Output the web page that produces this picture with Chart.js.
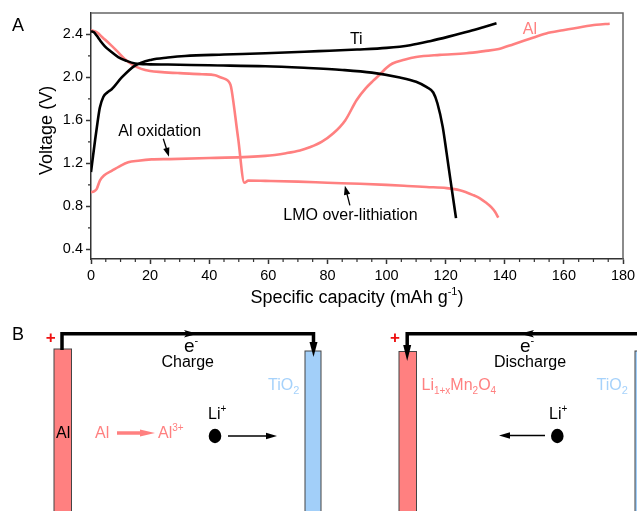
<!DOCTYPE html>
<html>
<head>
<meta charset="utf-8">
<script src="https://cdn.jsdelivr.net/npm/chart.js@4.4.0/dist/chart.umd.min.js"></script>
<style>
  body { margin: 0; background: #fff; }
  #wrap { position: absolute; left: 0; top: 0; width: 637px; height: 318px; }
  #schem { position: absolute; left: 0; top: 0; }
</style>
</head>
<body>
<div id="wrap"><canvas id="data-chart"></canvas></div>

<svg id="schem" width="637" height="511" font-family="'Liberation Sans', Arial, sans-serif">
  <text x="12" y="31" font-size="18">A</text>
  <text x="12" y="340" font-size="18">B</text>

  <!-- charge cell -->
  <rect x="54" y="349" width="17.5" height="180" fill="#ff8080" stroke="#444" stroke-width="1"/>
  <rect x="305" y="351" width="16" height="180" fill="#a2cff9" stroke="#444" stroke-width="1"/>
  <polyline points="62,350 62,333.7 313.5,333.7 313.5,345" fill="none" stroke="#000" stroke-width="3.5"/>
  <polygon points="309.5,342 317.5,342 313.5,357" fill="#000"/>
  <polygon points="184,330 197.5,333.7 184,337.4 187,333.7" fill="#000"/>
  <text x="50.8" y="342.6" font-size="17" font-weight="bold" fill="#ee1111" text-anchor="middle">+</text>
  <text x="184" y="352" font-size="19">e<tspan dy="-8" font-size="11">-</tspan></text>
  <text x="161.5" y="367" font-size="16">Charge</text>
  <text x="268" y="390" font-size="16" fill="#a6d2fb">TiO<tspan dy="4" font-size="11">2</tspan></text>
  <text x="56" y="438" font-size="16">Al</text>
  <text x="95" y="438" font-size="16" fill="#ff8080">Al</text>
  <line x1="117" y1="433" x2="143" y2="433" stroke="#ff8080" stroke-width="3.5"/>
  <polygon points="140,429.5 155,433 140,436.5" fill="#ff8080"/>
  <text x="158" y="438" font-size="16" fill="#ff8080">Al<tspan dy="-7" font-size="10">3+</tspan></text>
  <text x="208" y="419" font-size="16">Li<tspan dy="-7" font-size="10">+</tspan></text>
  <ellipse cx="215" cy="436" rx="6.3" ry="7.2" fill="#000"/>
  <line x1="228" y1="436" x2="268" y2="436" stroke="#000" stroke-width="1.5"/>
  <polygon points="266,432.8 277,436 266,439.2" fill="#000"/>

  <!-- discharge cell -->
  <rect x="399" y="351.5" width="17.5" height="180" fill="#ff8080" stroke="#444" stroke-width="1"/>
  <rect x="635" y="351" width="16" height="180" fill="#a2cff9" stroke="#444" stroke-width="1"/>
  <polyline points="407.2,348 407.2,333.7 640,333.7" fill="none" stroke="#000" stroke-width="3.5"/>
  <polygon points="403.2,345 411.2,345 407.2,361" fill="#000"/>
  <polygon points="534,330 520,333.7 534,337.4 531,333.7" fill="#000"/>
  <text x="395" y="342.6" font-size="17" font-weight="bold" fill="#ee1111" text-anchor="middle">+</text>
  <text x="520" y="352" font-size="19">e<tspan dy="-8" font-size="11">-</tspan></text>
  <text x="494" y="367" font-size="16">Discharge</text>
  <text x="421.5" y="390" font-size="16" fill="#ff8080">Li<tspan dy="4" font-size="10">1+x</tspan><tspan dy="-4">Mn</tspan><tspan dy="4" font-size="10">2</tspan><tspan dy="-4">O</tspan><tspan dy="4" font-size="10">4</tspan></text>
  <text x="596.5" y="390" font-size="16" fill="#a6d2fb">TiO<tspan dy="4" font-size="11">2</tspan></text>
  <text x="549" y="419" font-size="16">Li<tspan dy="-7" font-size="10">+</tspan></text>
  <ellipse cx="557.3" cy="436" rx="6.3" ry="7.2" fill="#000"/>
  <line x1="545" y1="435.5" x2="508" y2="435.5" stroke="#000" stroke-width="1.5"/>
  <polygon points="510,432.3 499,435.5 510,438.7" fill="#000"/>
</svg>

<script>
var FONT = "'Liberation Sans', Arial, sans-serif";

// Ti electrode (black)
var tiChargeX = [0, 0.7, 1.4, 2.2, 3, 4.2, 5.5, 7, 10.4, 14.9, 20.5, 26, 31.8, 45, 59, 77, 90, 100, 108, 115, 121, 128, 133, 137.2];
var tiChargeY = [1.12, 1.27, 1.42, 1.58, 1.72, 1.82, 1.86, 1.89, 2.0, 2.11, 2.165, 2.185, 2.2, 2.213, 2.225, 2.245, 2.26, 2.275, 2.30, 2.34, 2.38, 2.43, 2.47, 2.505];
var tiDischargeX = [0, 1, 1.9, 3.2, 4.7, 6.8, 9.2, 12, 14.9, 20, 26, 40, 59, 72, 85, 95, 104.5, 110, 113.6, 115.8, 117.2, 119, 120.3, 121.7, 123.5];
var tiDischargeY = [2.43, 2.42, 2.39, 2.34, 2.29, 2.24, 2.19, 2.155, 2.13, 2.122, 2.12, 2.113, 2.105, 2.09, 2.07, 2.045, 2.0, 1.96, 1.91, 1.86, 1.76, 1.54, 1.30, 1.03, 0.69];

// Al electrode (pink)
var alChargeX = [0, 1, 1.9, 3, 4.5, 7, 9.5, 12.6, 16, 20.5, 26.7, 40, 59, 66, 70.7, 74, 78, 82, 86, 89.9, 93, 95.5, 97.8, 100, 102, 106, 110, 118, 127, 133, 138, 143, 148.5, 154, 159.7, 166, 171, 175.5];
var alChargeY = [0.93, 0.94, 0.96, 1.04, 1.09, 1.13, 1.17, 1.21, 1.225, 1.237, 1.24, 1.25, 1.27, 1.295, 1.32, 1.35, 1.40, 1.48, 1.60, 1.79, 1.90, 1.97, 2.03, 2.09, 2.13, 2.165, 2.19, 2.21, 2.225, 2.245, 2.265, 2.31, 2.36, 2.41, 2.44, 2.47, 2.49, 2.50];
var alDischargeX = [0, 2, 4, 6.4, 9, 11.5, 14, 17, 20, 24, 30, 37.5, 42, 44, 45.5, 46.5, 47.2, 47.6, 49.8, 51.9, 53.2, 59, 70, 80, 91, 100, 107, 113.5, 120.3, 124.8, 129.3, 131.6, 133.6, 135.5, 136.8, 137.8];
var alDischargeY = [2.44, 2.42, 2.37, 2.31, 2.24, 2.17, 2.12, 2.08, 2.06, 2.05, 2.04, 2.03, 2.02, 2.0, 1.985, 1.965, 1.93, 1.88, 1.43, 1.02, 1.04, 1.037, 1.03, 1.02, 1.01, 1.0, 0.99, 0.98, 0.97, 0.95, 0.905, 0.875, 0.835, 0.79, 0.745, 0.695];

var xTicks = [0, 20, 40, 60, 80, 100, 120, 140, 160, 180];
var yTicks = [0.4, 0.8, 1.2, 1.6, 2.0, 2.4];
var xMinor = [5, 10, 15, 25, 30, 35, 45, 50, 55, 65, 70, 75, 85, 90, 95, 105, 110, 115, 125, 130, 135, 145, 150, 155, 165, 170, 175];
var yMinor = [0.6, 1.0, 1.4, 1.8, 2.2];

// label text, anchor in data units
var notes = [
    { text: "Ti", x: 87.6, y: 2.307, color: "#000" },
    { text: "Al", x: 146.1, y: 2.40, color: "#ff8080" },
    { text: "Al oxidation", x: 9.24, y: 1.451, color: "#000" },
    { text: "LMO over-lithiation", x: 65.05, y: 0.670, color: "#000" }
];
var arrows = [
    { from: [24.46, 1.430], to: [26.39, 1.262] },
    { from: [87.6, 0.809], to: [85.9, 0.992] }
];

function pts(xs, ys) {
    return xs.map(function (v, i) { return { x: v, y: ys[i] }; });
}

function series(xs, ys, color) {
    return {
        data: pts(xs, ys),
        borderColor: color,
        borderWidth: 2.6,
        pointRadius: 0,
        fill: false,
        cubicInterpolationMode: "monotone"
    };
}

var extras = {
    id: "extras",
    afterDraw: function (chart) {
        var ctx = chart.ctx, a = chart.chartArea, xs = chart.scales.x, ys = chart.scales.y;
        ctx.save();
        // top / right frame
        ctx.strokeStyle = "#666";
        ctx.lineWidth = 1.5;
        ctx.beginPath();
        ctx.moveTo(a.left, a.top);
        ctx.lineTo(a.right, a.top);
        ctx.lineTo(a.right, a.bottom);
        ctx.stroke();

        // minor ticks
        ctx.strokeStyle = "#333";
        ctx.lineWidth = 1.2;
        ctx.beginPath();
        xMinor.forEach(function (v) {
            var px = xs.getPixelForValue(v);
            ctx.moveTo(px, a.bottom);
            ctx.lineTo(px, a.bottom + 3);
        });
        yMinor.forEach(function (v) {
            var py = ys.getPixelForValue(v);
            ctx.moveTo(a.left, py);
            ctx.lineTo(a.left - 3, py);
        });
        ctx.stroke();

        // notes
        ctx.font = "16px " + FONT;
        ctx.textAlign = "left";
        ctx.textBaseline = "alphabetic";
        notes.forEach(function (n) {
            ctx.fillStyle = n.color;
            ctx.fillText(n.text, xs.getPixelForValue(n.x), ys.getPixelForValue(n.y));
        });

        // arrows
        ctx.strokeStyle = "#000";
        ctx.fillStyle = "#000";
        ctx.lineWidth = 1.3;
        arrows.forEach(function (ar) {
            var x1 = xs.getPixelForValue(ar.from[0]), y1 = ys.getPixelForValue(ar.from[1]);
            var x2 = xs.getPixelForValue(ar.to[0]), y2 = ys.getPixelForValue(ar.to[1]);
            var ang = Math.atan2(y2 - y1, x2 - x1);
            ctx.beginPath();
            ctx.moveTo(x1, y1);
            ctx.lineTo(x2 - 6 * Math.cos(ang), y2 - 6 * Math.sin(ang));
            ctx.stroke();
            ctx.beginPath();
            ctx.moveTo(x2, y2);
            ctx.lineTo(x2 - 9 * Math.cos(ang) + 3.2 * Math.sin(ang), y2 - 9 * Math.sin(ang) - 3.2 * Math.cos(ang));
            ctx.lineTo(x2 - 9 * Math.cos(ang) - 3.2 * Math.sin(ang), y2 - 9 * Math.sin(ang) + 3.2 * Math.cos(ang));
            ctx.closePath();
            ctx.fill();
        });

        // axis titles
        ctx.fillStyle = "#000";
        var main = "Specific capacity (mAh g", sup = "-1", tail = ")";
        ctx.font = "18px " + FONT;
        var w1 = ctx.measureText(main).width, w3 = ctx.measureText(tail).width;
        ctx.font = "11px " + FONT;
        var w2 = ctx.measureText(sup).width;
        var sx = (a.left + a.right) / 2 - (w1 + w2 + w3) / 2, by = 302.5;
        ctx.font = "18px " + FONT;
        ctx.fillText(main, sx, by);
        ctx.fillText(tail, sx + w1 + w2, by);
        ctx.font = "11px " + FONT;
        ctx.fillText(sup, sx + w1, by - 8);

        ctx.translate(51.5, 130.4);
        ctx.rotate(-Math.PI / 2);
        ctx.font = "18px " + FONT;
        ctx.textAlign = "center";
        ctx.fillText("Voltage (V)", 0, 0);
        ctx.restore();
    }
};

var chart = new Chart(document.getElementById("data-chart").getContext("2d"), {
    type: "line",
    data: {
        datasets: [
            series(tiChargeX, tiChargeY, "#000"),
            series(tiDischargeX, tiDischargeY, "#000"),
            series(alChargeX, alChargeY, "#ff8080"),
            series(alDischargeX, alDischargeY, "#ff8080")
        ]
    },
    options: {
        responsive: true,
        maintainAspectRatio: false,
        animation: false,
        devicePixelRatio: 1,
        layout: { padding: { left: 0, right: 14, top: 13, bottom: 0 } },
        plugins: { legend: { display: false }, tooltip: { enabled: false } },
        scales: {
            x: {
                type: "linear",
                min: 0,
                max: 180,
                afterBuildTicks: function (s) { s.ticks = xTicks.map(function (v) { return { value: v }; }); },
                afterFit: function (s) { s.height = 59; s.paddingLeft = 0; s.paddingRight = 0; },
                ticks: { color: "#000", font: { family: FONT, size: 14.5 }, padding: 3, maxRotation: 0, autoSkip: false,
                    callback: function (v) { return String(v); } },
                grid: { drawOnChartArea: false, tickLength: 5, tickColor: "#333", tickWidth: 1.5 },
                border: { color: "#333", width: 1.5 }
            },
            y: {
                min: 0.31,
                max: 2.6,
                afterBuildTicks: function (s) { s.ticks = yTicks.map(function (v) { return { value: v }; }); },
                afterFit: function (s) { s.width = 91; s.paddingTop = 0; s.paddingBottom = 0; },
                ticks: { color: "#000", font: { family: FONT, size: 14.5 }, padding: 3,
                    callback: function (v) { return v.toFixed(1); } },
                grid: { drawOnChartArea: false, tickLength: 5, tickColor: "#333", tickWidth: 1.5 },
                border: { color: "#333", width: 1.5 }
            }
        }
    },
    plugins: [extras]
});
</script>
</body>
</html>
